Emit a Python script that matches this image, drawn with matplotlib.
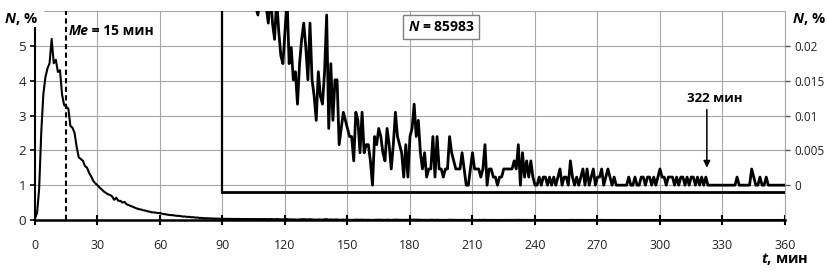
import matplotlib
matplotlib.use("Agg")
import matplotlib.pyplot as plt
import numpy as np

plt.rcParams["font.family"] = ["Open Sans", "DejaVu Sans"]
plt.rcParams["mathtext.fontset"] = "custom"
plt.rcParams["mathtext.rm"] = "Open Sans:bold"
plt.rcParams["mathtext.bfit"] = "Open Sans:italic:bold"

GRID = "#a6a6a6"

# share of sessions per minute, % (0..89 min)
head_pct = [
    0.05, 0.2, 0.9, 2.5, 3.6, 4.1, 4.35, 4.5, 5.2, 4.5,
    4.6, 4.25, 4.3, 3.6, 3.3, 3.25, 3.2, 2.7, 2.65, 2.5,
    2.1, 1.8, 1.75, 1.7, 1.55, 1.5, 1.35, 1.25, 1.12, 1.05,
    1.0, 0.93, 0.88, 0.82, 0.78, 0.74, 0.72, 0.68, 0.58, 0.64,
    0.55, 0.55, 0.5, 0.52, 0.45, 0.43, 0.4, 0.38, 0.35, 0.33,
    0.31, 0.3, 0.28, 0.27, 0.25, 0.24, 0.22, 0.22, 0.21, 0.2,
    0.2, 0.18, 0.17, 0.16, 0.15, 0.14, 0.14, 0.13, 0.12, 0.12,
    0.11, 0.1, 0.1, 0.09, 0.09, 0.08, 0.08, 0.07, 0.07, 0.06,
    0.06, 0.05, 0.05, 0.05, 0.045, 0.045, 0.04, 0.04, 0.04, 0.035,
]

# tail as raw counts per minute (90..360 min)
N_TOTAL = 85983
tail_counts = [
    30, 29, 28, 28, 27, 26, 27, 25, 26, 24,
    25, 24, 23, 24, 23, 23, 22, 21, 23, 24,
    23, 22, 20, 24, 20, 18, 23, 19, 16, 15,
    19, 23, 15, 17, 13, 14, 10, 15, 18, 20,
    17, 13, 20, 13, 11, 8, 14, 11, 10, 14,
    21, 7, 15, 8, 13, 13, 5, 7, 9, 8,
    7, 6, 6, 3, 9, 8, 4, 9, 4, 5,
    5, 3, 0, 6, 5, 7, 6, 4, 3, 7,
    5, 2, 5, 9, 6, 5, 4, 1, 5, 1,
    6, 7, 10, 6, 8, 4, 2, 4, 1, 2,
    2, 6, 1, 6, 2, 2, 1, 2, 2, 6,
    4, 3, 2, 2, 2, 4, 2, 0, 0, 2,
    4, 2, 2, 2, 1, 2, 5, 0, 2, 2,
    1, 1, 0, 1, 1, 2, 2, 2, 2, 2,
    3, 2, 5, 0, 4, 1, 3, 1, 3, 1,
    0, 0, 1, 0, 1, 1, 0, 1, 0, 1,
    0, 1, 2, 0, 1, 1, 0, 3, 1, 0,
    1, 0, 1, 2, 0, 2, 0, 1, 2, 0,
    1, 1, 2, 0, 1, 2, 1, 0, 1, 0,
    0, 0, 0, 0, 0, 1, 0, 0, 1, 0,
    0, 1, 1, 0, 1, 1, 0, 1, 0, 1,
    2, 1, 1, 0, 1, 1, 1, 0, 1, 0,
    1, 1, 0, 1, 0, 1, 1, 0, 1, 0,
    1, 0, 1, 0, 0, 0, 0, 0, 0, 0,
    0, 0, 0, 0, 0, 0, 0, 1, 0, 0,
    0, 0, 0, 0, 2, 1, 0, 0, 1, 0,
    0, 1, 0, 0, 0, 0, 0, 0, 0, 0, 0,
]

minutes = np.arange(0, 361)
tail_minutes = minutes[len(head_pct):]
tail_pct = np.array(tail_counts) * 100.0 / N_TOTAL
all_pct = np.concatenate([head_pct, tail_pct])

median_t = 15
max_t = 322
inset_from = 90

x_ticks = list(range(0, 361, 30))
left_ticks = [0, 1, 2, 3, 4, 5]
right_ticks = [0, 0.005, 0.01, 0.015, 0.02]
right_labels = ["0", "0.005", "0.01", "0.015", "0.02"]

fig = plt.figure(figsize=(8.27, 2.73), dpi=100)
ax = fig.add_axes([0.0423, 0.1941, 0.9069, 0.7656])

ax.plot(minutes, all_pct, color="black", lw=1.5, zorder=4)
ax.set_xlim(0, 360)
ax.set_ylim(0, 6)
ax.set_xticks(x_ticks)
ax.set_yticks(left_ticks)
ax.grid(color=GRID, lw=0.8)
ax.set_axisbelow(True)
ax.xaxis.get_gridlines()[0].set_visible(False)
ax.axhline(6, color=GRID, lw=0.8, xmin=0.012)

ax.spines["top"].set_visible(False)
ax.spines["right"].set_color(GRID)
ax.spines["right"].set_linewidth(0.8)
ax.spines["left"].set_bounds(0, 5.5)
ax.spines["left"].set_linewidth(1.5)
ax.spines["bottom"].set_linewidth(1.8)

ax.tick_params(axis="x", direction="inout", length=7, width=1.5, pad=10,
               labelsize=9, labelcolor="#222222")
ax.tick_params(axis="y", direction="out", length=3.5, width=1.2, pad=3,
               labelsize=9.5, labelcolor="#222222")

# median line
ax.plot([median_t, median_t], [0, 6], color="black", lw=1.5,
        dashes=(2.5, 1.6), zorder=3)
t1 = ax.text(median_t + 1.0, 5.42, "Me", fontsize=10, fontweight="bold",
             style="italic", ha="left", va="center")
ax.annotate(" = 15 мин", xy=(1, 0.5), xycoords=t1, fontsize=10,
            fontweight="bold", ha="left", va="center")

# zoomed tail on secondary axis
ax2 = ax.twinx()
ax2.set_ylim(-0.005, 0.025)
ax2.set_yticks(right_ticks)
ax2.set_yticklabels(right_labels)
for s in ax2.spines.values():
    s.set_visible(False)
ax2.tick_params(axis="y", direction="out", length=3.5, width=1, color="#555555",
                pad=3, labelsize=8.5, labelcolor="#222222")
ax2.plot(tail_minutes, tail_pct, color="black", lw=2.0, zorder=4)

# inset frame
ax.plot([inset_from, inset_from], [0.8, 6], color="black", lw=1.6, zorder=5)
ax.plot([inset_from, 360], [0.8, 0.8], color="black", lw=2.0, zorder=5)

ax.text(195, 5.55, r"$\mathbfit{N}$ = 85983", fontsize=10, fontweight="bold",
        ha="center", va="center", zorder=6,
        bbox=dict(boxstyle="square,pad=0.35", fc="white", ec="#7f7f7f", lw=1))

ax.annotate("", xy=(max_t + 0.5, 1.42), xytext=(max_t + 0.5, 3.25),
            arrowprops=dict(arrowstyle="-|>", color="black", lw=1.1,
                            mutation_scale=10))
ax.text(max_t + 4.5, 3.5, "322 мин", fontsize=9.5, fontweight="bold",
        ha="center", va="center")

# axis titles
fig.text(0.046, 0.93, r"$\mathbfit{N}$, %", fontsize=10.5, fontweight="bold",
         ha="right", va="center")
fig.text(0.998, 0.93, r"$\mathbfit{N}$, %", fontsize=10.5, fontweight="bold",
         ha="right", va="center")
fig.text(0.977, 0.05, r"$\mathbfit{t}$, мин", fontsize=10.5, fontweight="bold",
         ha="right", va="center")

fig.savefig("out.png", dpi=100, facecolor="white")
